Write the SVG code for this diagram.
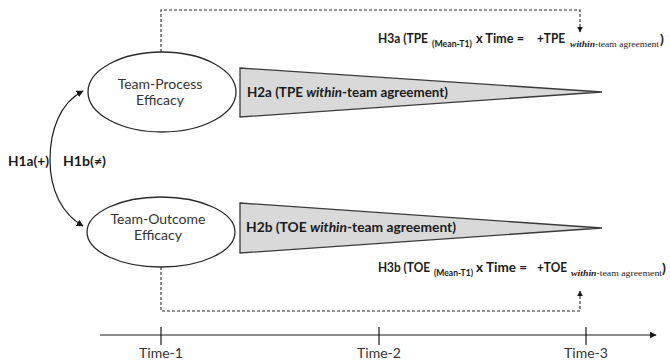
<svg xmlns="http://www.w3.org/2000/svg" width="670" height="363" viewBox="0 0 670 363">
  <defs>
    <marker id="tip" viewBox="0 0 10 10" refX="9" refY="5" markerWidth="7" markerHeight="7" orient="auto" markerUnits="userSpaceOnUse">
      <path d="M0,0 L10,5 L0,10 z" fill="#1a1a1a"/>
    </marker>
    <marker id="tipSmall" viewBox="0 0 10 10" refX="9" refY="5" markerWidth="6" markerHeight="6" orient="auto" markerUnits="userSpaceOnUse">
      <path d="M0,0 L10,5 L0,10 z" fill="#1a1a1a"/>
    </marker>
  </defs>
  <style>
    .node { fill: #ffffff; stroke: #2a2a2a; stroke-width: 1.3; }
    .wedge { fill: #d9d9d9; stroke: #3a3a3a; stroke-width: 1.3; }
    .lbl { font-family: Lato, "Liberation Sans", sans-serif; font-size: 14px; fill: #333333; }
    .hyp { font-family: Lato, "Liberation Sans", sans-serif; font-size: 14px; font-weight: bold; fill: #1a1a1a; }
    .sub { font-family: Lato, "Liberation Sans", sans-serif; font-size: 9px; font-weight: bold; fill: #1a1a1a; }
    .serif { font-family: "Liberation Serif", serif; font-size: 9px; fill: #1a1a1a; }
    .dash { fill: none; stroke: #2a2a2a; stroke-width: 1.1; stroke-dasharray: 3 2; }
    .solid { fill: none; stroke: #1a1a1a; stroke-width: 1.2; }
  </style>

  <rect width="670" height="363" fill="#ffffff"/>

  <!-- connectors -->
  <g id="connectors">
    <path class="dash" d="M161,52 V10 H580 V32" marker-end="url(#tipSmall)"/>
    <path class="dash" d="M161,267 V311 H580 V291" marker-end="url(#tipSmall)"/>
    <path class="solid" d="M50,160 C50,130 60,103 83,91" marker-end="url(#tip)"/>
    <path class="solid" d="M50,160 C50,190 62,214 83,226" marker-end="url(#tip)"/>
  </g>

  <!-- team-process efficacy -->
  <g id="tpe">
    <ellipse class="node" cx="162" cy="92" rx="74" ry="40"/>
    <text class="lbl" x="160" y="89" text-anchor="middle">Team-Process</text>
    <text class="lbl" x="160" y="105" text-anchor="middle">Efficacy</text>
  </g>

  <!-- team-outcome efficacy -->
  <g id="toe">
    <ellipse class="node" cx="161" cy="232" rx="74" ry="35"/>
    <text class="lbl" x="158" y="224" text-anchor="middle">Team-Outcome</text>
    <text class="lbl" x="158" y="240" text-anchor="middle">Efficacy</text>
  </g>

  <!-- H2a wedge -->
  <g id="h2a">
    <polygon class="wedge" points="240,68 602,92 240,117"/>
    <text class="hyp" x="247" y="97" textLength="201" lengthAdjust="spacingAndGlyphs">H2a (TPE <tspan font-style="italic">within</tspan>-team agreement)</text>
  </g>

  <!-- H2b wedge -->
  <g id="h2b">
    <polygon class="wedge" points="240,203 602,228 240,253"/>
    <text class="hyp" x="246" y="232" textLength="210" lengthAdjust="spacingAndGlyphs">H2b (TOE <tspan font-style="italic">within</tspan>-team agreement)</text>
  </g>

  <!-- H3a label -->
  <g id="h3a">
    <text class="hyp" x="378" y="43" textLength="50" lengthAdjust="spacingAndGlyphs">H3a (TPE</text>
    <text class="sub" x="432" y="47" textLength="40" lengthAdjust="spacingAndGlyphs">(Mean-T1)</text>
    <text class="hyp" x="476" y="43" textLength="48" lengthAdjust="spacingAndGlyphs">x Time =</text>
    <text class="hyp" x="537" y="43" textLength="28" lengthAdjust="spacingAndGlyphs">+TPE</text>
    <text class="serif" x="570" y="47" textLength="89" lengthAdjust="spacingAndGlyphs"><tspan font-style="italic" font-weight="bold">within</tspan>-team agreement</text>
    <text class="hyp" x="660" y="44">)</text>
  </g>

  <!-- H3b label -->
  <g id="h3b">
    <text class="hyp" x="378" y="272" textLength="52" lengthAdjust="spacingAndGlyphs">H3b (TOE</text>
    <text class="sub" x="434" y="276" textLength="39" lengthAdjust="spacingAndGlyphs">(Mean-T1)</text>
    <text class="hyp" x="476" y="272" textLength="51" lengthAdjust="spacingAndGlyphs">x Time =</text>
    <text class="hyp" x="537" y="272" textLength="30" lengthAdjust="spacingAndGlyphs">+TOE</text>
    <text class="serif" x="571" y="276" textLength="91" lengthAdjust="spacingAndGlyphs"><tspan font-style="italic" font-weight="bold">within</tspan>-team agreement</text>
    <text class="hyp" x="662" y="273">)</text>
  </g>

  <!-- H1 labels -->
  <g id="h1">
    <text class="hyp" x="8" y="166" textLength="41" lengthAdjust="spacingAndGlyphs">H1a(+)</text>
    <text class="hyp" x="63" y="166" textLength="43" lengthAdjust="spacingAndGlyphs">H1b(≠)</text>
  </g>

  <!-- time axis -->
  <g id="timeline">
    <line class="solid" x1="100" y1="335" x2="656" y2="335" marker-end="url(#tip)"/>
    <line class="solid" x1="161" y1="327" x2="161" y2="345"/>
    <line class="solid" x1="379" y1="327" x2="379" y2="345"/>
    <line class="solid" x1="586" y1="327" x2="586" y2="345"/>
    <text class="lbl" x="161" y="358" text-anchor="middle">Time-1</text>
    <text class="lbl" x="379" y="358" text-anchor="middle">Time-2</text>
    <text class="lbl" x="586" y="358" text-anchor="middle">Time-3</text>
  </g>
</svg>
